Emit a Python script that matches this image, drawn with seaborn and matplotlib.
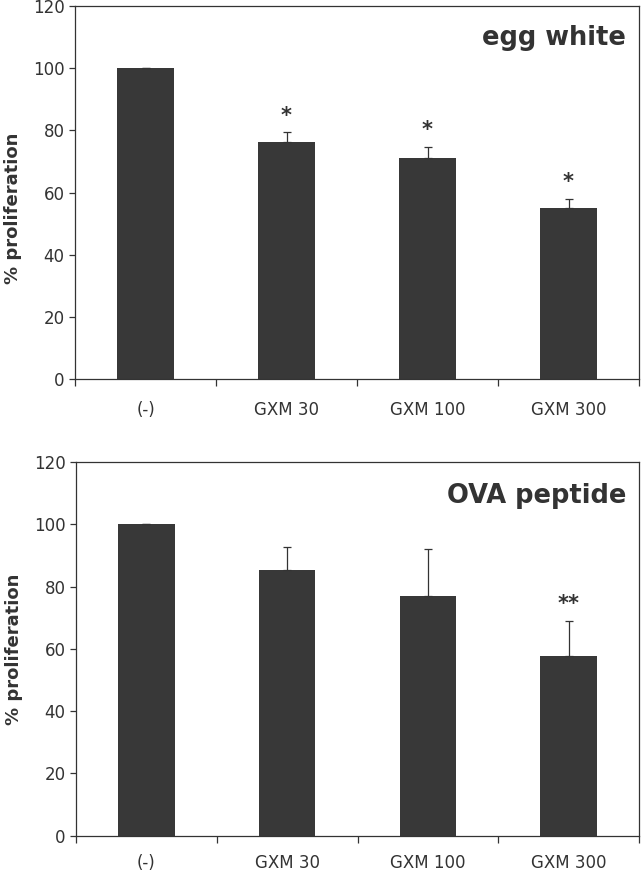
import matplotlib
matplotlib.use("Agg")
import matplotlib.pyplot as plt
import seaborn as sns
import pandas as pd
import numpy as np

categories = ["(-)", "GXM 30", "GXM 100", "GXM 300"]
egg_mean = [100, 76.2, 71.2, 54.9]
egg_err = [0, 3.2, 3.5, 3.0]
egg_stars = ["", "*", "*", "*"]
ova_mean = [100, 85.2, 77.0, 57.6]
ova_err = [0, 7.4, 15.2, 11.5]
ova_stars = ["", "", "", "**"]
titles = ["egg white", "OVA peptide"]
yticks = [0, 20, 40, 60, 80, 100, 120]

sns.set_theme(style="white")
plt.rcParams['font.family'] = ['DejaVu Sans']
TXT = "#333333"
BAR = "#383838"

fig = plt.figure(figsize=(6.41, 8.76), dpi=100)
ax1 = fig.add_axes([75/641, 1-379/876, 564/641, 373/876])
ax2 = fig.add_axes([76/641, 1-835.7/876, 563/641, 373.7/876])

panels = [(ax1, egg_mean, egg_err, egg_stars, titles[0], 0.895, 0.458, 16),
          (ax2, ova_mean, ova_err, ova_stars, titles[1], 0.89, 0.5, 13)]

for ax, mean, err, stars, title, ty, ly, xpad in panels:
    df = pd.DataFrame({"cat": categories, "val": mean})
    sns.barplot(data=df, x="cat", y="val", color=BAR, saturation=1,
                width=0.40, ax=ax, errorbar=None, linewidth=0)
    xs = np.arange(len(categories))
    ax.errorbar(xs, mean, yerr=[np.zeros(len(err)), err], fmt="none",
                ecolor=TXT, elinewidth=0.9, capsize=2.8, capthick=0.9)
    for x, m, e, s in zip(xs, mean, err, stars):
        if s:
            ax.text(x, m + e + 3.4, s, ha="center", va="baseline",
                    fontsize=15, fontweight="bold", color=TXT)
    ax.set_xlim(-0.5, len(categories) - 0.5)
    ax.set_ylim(0, 120)
    ax.set_yticks(yticks)
    ax.set_yticklabels([str(v) for v in yticks], fontsize=12, color=TXT)
    ax.set_xticks(np.arange(len(categories) + 1) - 0.5)
    ax.set_xticklabels([])
    ax.set_xticks(xs, minor=True)
    ax.set_xticklabels(categories, minor=True, fontsize=12, color=TXT)
    ax.tick_params(axis="x", which="major", direction="out", length=5,
                   width=0.9, color=TXT, bottom=True)
    ax.tick_params(axis="x", which="minor", length=0, pad=xpad, bottom=True)
    ax.tick_params(axis="y", direction="out", length=4.5, width=0.9,
                   color=TXT, left=True, pad=3)
    ax.set_xlabel("")
    ax.set_ylabel("% proliferation", fontsize=13, fontweight="bold",
                  color=TXT)
    ax.yaxis.set_label_coords(-0.094, ly)
    for sp in ax.spines.values():
        sp.set_visible(True)
        sp.set_color(TXT)
        sp.set_linewidth(0.9)
    ax.text(0.977, ty, title, transform=ax.transAxes, ha="right",
            va="baseline", fontsize=18.5, fontweight="bold", color=TXT)

fig.savefig("out.png", dpi=100)
